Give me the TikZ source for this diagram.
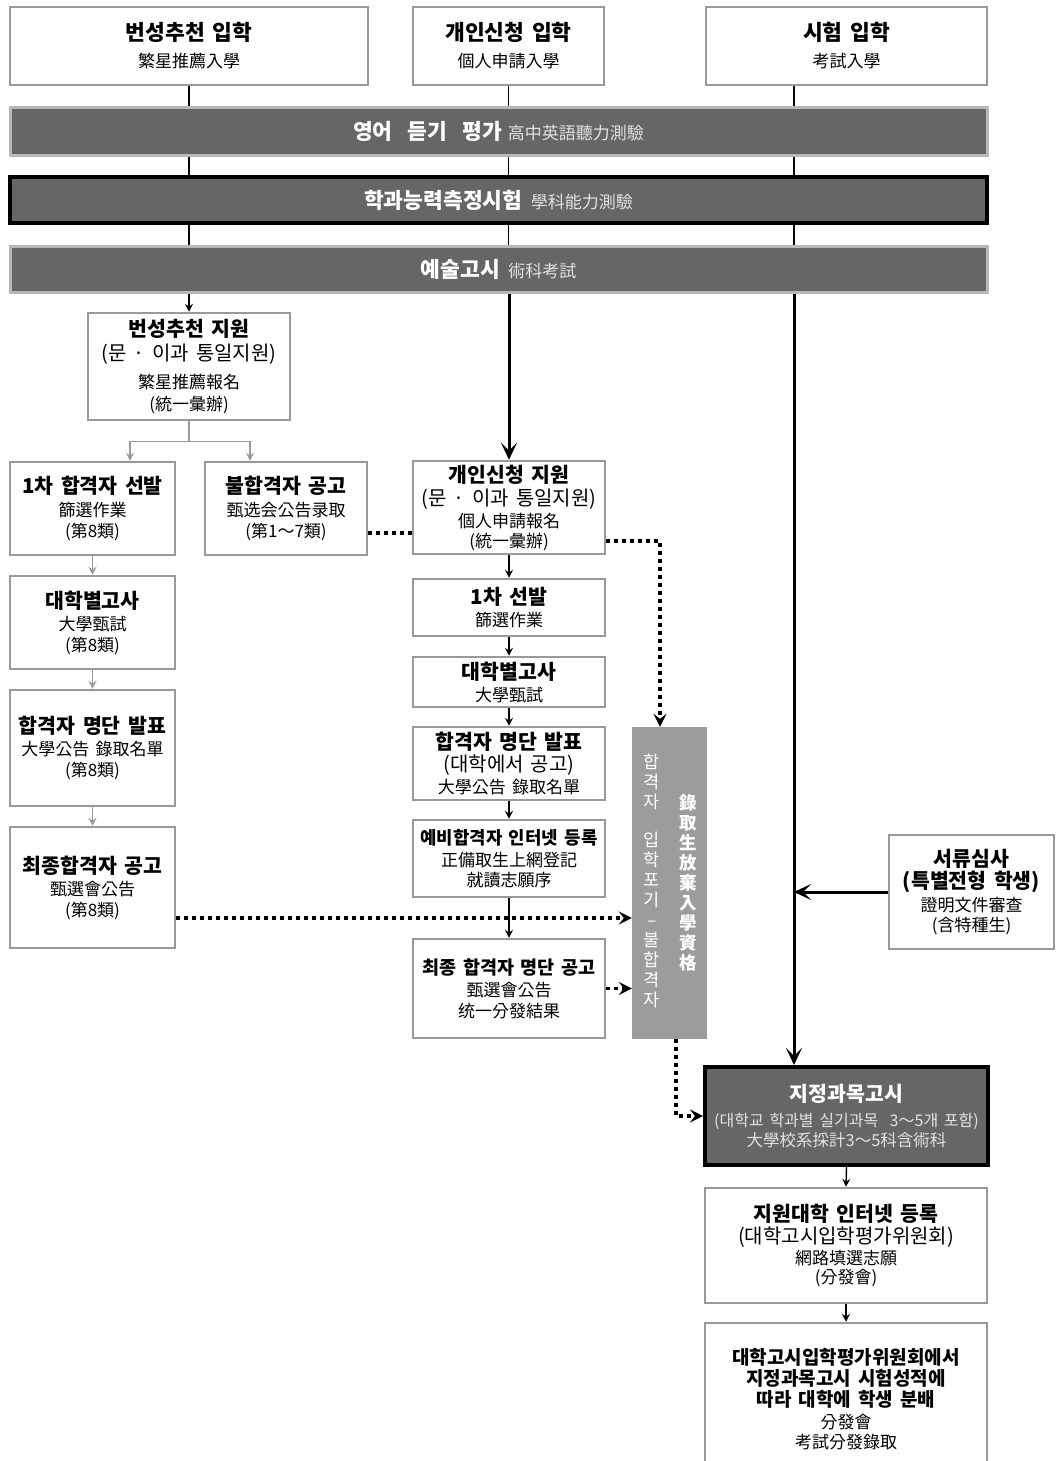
\documentclass[tikz,border=0pt]{standalone}
\usepackage{fontspec}
\setmainfont{Noto Sans CJK KR}[WordSpace=1.6]
\usetikzlibrary{arrows.meta,calc}
\definecolor{bgray}{HTML}{999999}
\definecolor{dgray}{HTML}{666666}
\definecolor{lgray}{HTML}{E2E2E2}
\definecolor{cgray}{HTML}{9C9C9C}
\newcommand\tA{\fontsize{20.5}{22}\selectfont\bfseries}
\newcommand\tT{\fontsize{21.5}{22}\selectfont\bfseries}
\newcommand\tB{\fontsize{20}{22}\selectfont}
\newcommand\tC{\fontsize{17}{22}\selectfont}
\begin{document}
\begin{tikzpicture}[x=1pt,y=-1pt,font=\tC,
  box/.style={draw=bgray, line width=2.5pt, fill=white, align=center, inner sep=0pt, text=black},
  bar/.style={draw=bgray!70, line width=3pt, fill=dgray, inner sep=0pt, text=white},
  tbar/.style={draw=black, line width=4pt, fill=dgray, inner sep=0pt, text=white, align=center},
  conn/.style={line width=1.4pt, draw=black},
  tarr/.style={conn, -{Stealth[length=8pt,width=8pt,inset=3pt]}},
  garr/.style={line width=1.5pt, draw=bgray, -{Stealth[length=8pt,width=8pt,inset=3pt]}},
  bigarr/.style={line width=3pt, draw=black, -{Stealth[length=17pt,width=16pt,inset=8pt]}},
  dots/.style={line width=3.5pt, draw=black, dash pattern=on 3.5pt off 4.5pt},
  darr/.style={dots, -{Stealth[length=13pt,width=13pt,inset=5pt]}},
  vtxt/.style={text=white, align=center, inner sep=0pt, font=\fontsize{17.5}{20}\selectfont}
]
\fill[white] (0,0) rectangle (1055,1461);
\useasboundingbox (0,0) rectangle (1055,1461);

% top boxes
\node[box, minimum width=358, minimum height=78] (A) at (189,46)
  {{\tT 번성추천 입학}\\[5pt]{\tC 繁星推薦入學}};
\node[box, minimum width=191, minimum height=78] (B) at (508.5,46)
  {{\tT 개인신청 입학}\\[5pt]{\tC 個人申請入學}};
\node[box, minimum width=281, minimum height=78] (C) at (846.5,46)
  {{\tT 시험 입학}\\[5pt]{\tC 考試入學}};

% bars
\node[bar, minimum width=977, minimum height=47] (bar1) at (498.5,131.5)
  {{\tT 영어\hspace{0.7em}듣기\hspace{0.7em}평가}\hspace{0.35em}{\tC\color{lgray}高中英語聽力測驗}};
\node[tbar, minimum width=977, minimum height=46] (bar2) at (498.5,200)
  {{\tT 학과능력측정시험}\hspace{0.5em}{\tC\color{lgray}學科能力測驗}};
\node[bar, minimum width=977, minimum height=46] (bar3) at (498.5,269)
  {{\tT 예술고시}\hspace{0.5em}{\tC\color{lgray}術科考試}};

\coordinate (xr) at (794,0);
\foreach \n in {A,B}{
  \draw[conn] (\n.south) -- (\n.south |- bar1.north);
  \draw[conn] (\n.south |- bar1.south) -- (\n.south |- bar2.north);
  \draw[conn] (\n.south |- bar2.south) -- (\n.south |- bar3.north);
}
\draw[conn] (xr |- C.south) -- (xr |- bar1.north);
\draw[conn] (xr |- bar1.south) -- (xr |- bar2.north);
\draw[conn] (xr |- bar2.south) -- (xr |- bar3.north);

% left branch
\node[box, minimum width=202, minimum height=107] (bs) at (189,366.5)
  {{\tA 번성추천 지원}\\[2pt]{\tB (문 · 이과 통일지원)}\\[6pt]{\tC 繁星推薦報名}\\{\tC (統一彙辦)}};
\node[box, minimum width=165, minimum height=93] (l1) at (92.5,508.5)
  {{\tA 1차 합격자 선발}\\[1pt]{\tC 篩選作業}\\[-1pt]{\tC (第8類)}};
\node[box, minimum width=162, minimum height=93] (bh) at (286,508.5)
  {{\tA 불합격자 공고}\\[1pt]{\tC 甄选会公告录取}\\[-1pt]{\tC (第1～7類)}};
\node[box, minimum width=165, minimum height=93] (l2) at (92.5,622.5)
  {{\tA 대학별고사}\\[0pt]{\tC 大學甄試}\\[-1pt]{\tC (第8類)}};
\node[box, minimum width=165, minimum height=116] (l3) at (92.5,748)
  {{\tA 합격자 명단 발표}\\[0pt]{\tC 大學公告 錄取名單}\\[-1pt]{\tC (第8類)}};
\node[box, minimum width=165, minimum height=121] (l4) at (92.5,887.5)
  {{\tA 최종합격자 공고}\\[0pt]{\tC 甄選會公告}\\[-1pt]{\tC (第8類)}};

% middle branch
\node[box, minimum width=192, minimum height=93] (gk) at (509,507.5)
  {{\tA 개인신청 지원}\\[1pt]{\tB (문 · 이과 통일지원)}\\[0pt]{\tC 個人申請報名}\\[-2pt]{\tC (統一彙辦)}};
\node[box, minimum width=192, minimum height=57] (m1) at (509,607.5)
  {{\tA 1차 선발}\\[0pt]{\tC 篩選作業}};
\node[box, minimum width=192, minimum height=50] (m2) at (509,682)
  {{\tA 대학별고사}\\[0pt]{\tC 大學甄試}};
\node[box, minimum width=192, minimum height=73] (m3) at (509,763.5)
  {{\tA 합격자 명단 발표}\\[0pt]{\tB (대학에서 공고)}\\[0pt]{\tC 大學公告 錄取名單}};
\node[box, minimum width=192, minimum height=77] (m4) at (509,858.5)
  {{\fontsize{17.8}{22}\selectfont\bfseries 예비합격자 인터넷 등록}\\[0pt]{\tC 正備取生上網登記}\\[-2pt]{\tC 就讀志願序}};
\node[box, minimum width=192, minimum height=99] (m5) at (509,988.5)
  {{\fontsize{18.5}{22}\selectfont\bfseries 최종 합격자 명단 공고}\\[0pt]{\tC 甄選會公告}\\[-1pt]{\tC 统一分發結果}};

% rejected column
\node[fill=cgray, minimum width=75, minimum height=312, inner sep=0pt] (rej) at (669.5,883) {};
\node[vtxt] (rejL) at (652,881) {합\\격\\자\\[18pt]입\\학\\포\\기\\–\\불\\합\\격\\자};
\node[vtxt, font=\fontsize{17.5}{20}\selectfont\bfseries] (rejR) at (688,883) {錄\\取\\生\\放\\棄\\入\\學\\資\\格};

% right side
\node[box, minimum width=165, minimum height=114] (sr) at (971.5,892)
  {{\tA 서류심사}\\[0pt]{\tA (특별전형 학생)}\\[1pt]{\tC 證明文件審查}\\[-2pt]{\tC (含特種生)}};
\node[tbar, minimum width=283, minimum height=98] (jj) at (846.5,1116)
  {{\tA 지정과목고시}\\[3pt]{\fontsize{16}{22}\selectfont\color{lgray}(대학교 학과별 실기과목\ \ 3～5개 포함)}\\[-2pt]{\fontsize{16.5}{22}\selectfont\color{lgray}大學校系採計3～5科含術科}};
\node[box, minimum width=282, minimum height=115] (jw) at (846,1245.5)
  {{\tA 지원대학 인터넷 등록}\\[0pt]{\fontsize{20}{22}\selectfont (대학고시입학평가위원회)}\\[-1pt]{\tC 網路填選志願}\\[-3pt]{\tC (分發會)}};
\node[box, minimum width=282, minimum height=152] (fin) at (846,1399)
  {{\fontsize{19}{22}\selectfont\bfseries 대학고시입학평가위원회에서}\\[-1pt]{\fontsize{19}{22}\selectfont\bfseries 지정과목고시 시험성적에}\\[-1pt]{\fontsize{19}{22}\selectfont\bfseries 따라 대학에 학생 분배}\\[0pt]{\tC 分發會}\\[-2pt]{\tC 考試分發錄取}};

% connectors from bars
\draw[tarr] (bs.north |- bar3.south) -- (bs.north);
\draw[bigarr] (gk.north |- bar3.south) -- (gk.north);
\draw[bigarr] (xr |- bar3.south) -- (xr |- jj.north);
\draw[bigarr] (sr.west) -- (xr |- sr.west);

% gray tree
\coordinate (sp) at ($(bs.south)+(0,20)$);
\draw[line width=1.5pt, draw=bgray] (bs.south) -- (sp);
\draw[garr] (sp) -| ($(l1.north)+(37.5,0)$);
\draw[garr] (sp) -| ($(bh.north)+(-36,0)$);
\draw[garr] (l1.south) -- (l2.north);
\draw[garr] (l2.south) -- (l3.north);
\draw[garr] (l3.south) -- (l4.north);

% dotted connectors
\coordinate (d1) at ($(bh.east)+(0,24.5)$);
\draw[dots] (d1) -- (d1 -| gk.west);
\coordinate (d2) at ($(gk.east)+(0,33.5)$);
\draw[darr] (d2) -| ($(rej.north)+(-9.5,0)$);
\coordinate (d3) at ($(l4.east)+(0,30.5)$);
\draw[darr] (d3) -- (d3 -| rej.west);
\draw[darr] (m5.east) -- (m5.east -| rej.west);
\coordinate (d4) at ($(rej.south)+(6.5,0)$);
\draw[darr] (d4) |- (jj.west);

% middle column arrows
\draw[tarr] (gk.south) -- (m1.north);
\draw[tarr] (m1.south) -- (m2.north);
\draw[tarr] (m2.south) -- (m3.north);
\draw[tarr] (m3.south) -- (m4.north);
\draw[tarr] (m4.south) -- (m5.north);

% bottom arrows
\draw[tarr] (jj.south) -- (jw.north);
\draw[tarr] (jw.south) -- (fin.north);
\end{tikzpicture}
\end{document}
